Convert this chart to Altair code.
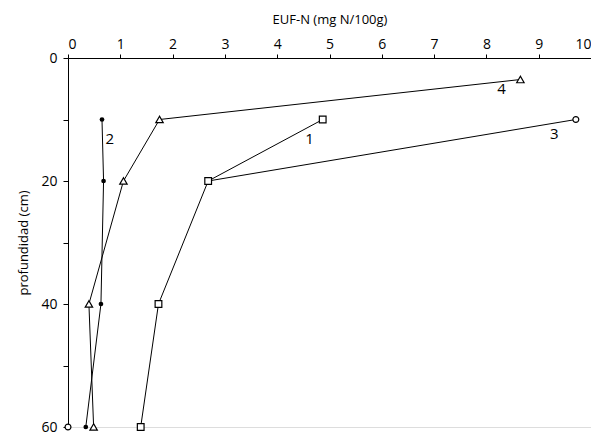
import altair as alt
import pandas as pd

# series values (x = EUF-N, y = depth in cm)
s1_x = [4.87, 2.68, 1.73, 1.39]
s1_y = [10, 20, 40, 60]
s2_x = [0.65, 0.68, 0.63, 0.34]
s2_y = [10, 20, 40, 60]
s3_x = [9.71, 2.68]
s3_y = [10, 20]
s4_x = [8.65, 1.75, 1.06, 0.40, 0.49]
s4_y = [3.5, 10, 20, 40, 60]
extra_x = [0.0]
extra_y = [60]

label_text = ["1", "2", "3", "4"]
label_x = [4.62, 0.8, 9.3, 8.29]
label_y = [13.2, 13.1, 12.4, 5.1]

x_ticks = list(range(0, 11))
y_ticks = [0, 10, 20, 30, 40, 50, 60]

FONT = "Open Sans"

rows = []
for name, xs, ys in [("1", s1_x, s1_y), ("2", s2_x, s2_y), ("3", s3_x, s3_y), ("4", s4_x, s4_y)]:
    for i, (xv, yv) in enumerate(zip(xs, ys)):
        rows.append({"serie": name, "x": xv, "y": yv, "o": i})
df = pd.DataFrame(rows)
df_extra = pd.DataFrame({"x": extra_x, "y": extra_y})
df_lab = pd.DataFrame({"t": label_text, "x": label_x, "y": label_y})

xs = alt.Scale(domain=[0, 10], nice=False)
ys = alt.Scale(domain=[0, 60], reverse=True, nice=False)

xenc = alt.X("x:Q", scale=xs, axis=alt.Axis(
    orient="top", values=x_ticks, title="EUF-N (mg N/100g)", grid=False,
    domainColor="black", tickColor="black", tickSize=4, labelFontSize=14,
    labelColor="black", titleFontSize=13, titleFontWeight="normal",
    titleColor="black", titlePadding=11, labelPadding=3, labelFont=FONT, titleFont=FONT))
yenc = alt.Y("y:Q", scale=ys, axis=alt.Axis(
    values=y_ticks, labelExpr="datum.value % 20 == 0 ? datum.label : ''",
    title="profundidad (cm)", grid=False, domainColor="black", tickColor="black",
    tickSize=5, labelFontSize=14, labelColor="black", titleFontSize=13,
    titleFontWeight="normal", titleColor="black", titlePadding=10, labelPadding=6,
    labelFont=FONT, titleFont=FONT))

base = alt.Chart(df)
lines = base.mark_line(color="black", strokeWidth=1).encode(
    x=xenc, y=yenc, detail="serie:N", order="o:Q")

sq = alt.Chart(df[df.serie == "1"]).mark_point(
    shape="square", filled=True, fill="white", stroke="black", strokeWidth=1.2, size=45, opacity=1
).encode(x="x:Q", y="y:Q")
dots = alt.Chart(df[df.serie == "2"]).mark_point(
    shape="circle", filled=True, color="black", size=22, opacity=1
).encode(x="x:Q", y="y:Q")
circ = alt.Chart(pd.concat([df[(df.serie == "3") & (df.o == 0)][["x", "y"]], df_extra])).mark_point(
    shape="circle", filled=True, fill="white", stroke="black", strokeWidth=1.2, size=35, opacity=1
).encode(x="x:Q", y="y:Q")
tri = alt.Chart(df[df.serie == "4"]).mark_point(
    shape="triangle-up", filled=True, fill="white", stroke="black", strokeWidth=1.2, size=55, opacity=1
).encode(x="x:Q", y="y:Q")

labels = alt.Chart(df_lab).mark_text(fontSize=15, font=FONT).encode(
    x="x:Q", y="y:Q", text="t:N", color=alt.value("black"))

chart = alt.layer(lines, sq, dots, circ, tri, labels).properties(
    width=523, height=369,
    autosize=alt.AutoSizeParams(type="none"),
    padding={"left": 60, "top": 50, "right": 0, "bottom": 7},
).configure_view(stroke=None).configure(background="white")

chart.save("out.html", embed_options={"renderer": "svg", "actions": False})
